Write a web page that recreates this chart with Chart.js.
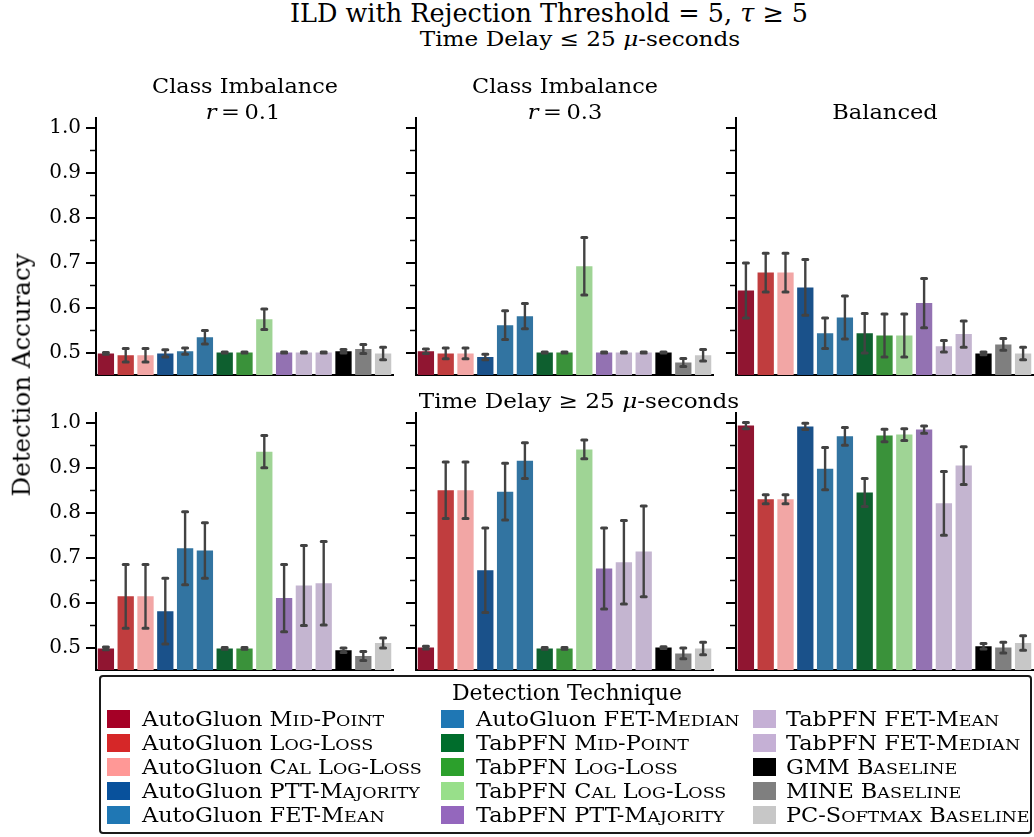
<!DOCTYPE html>
<html>
<head>
<meta charset="utf-8">
<title>ILD detection accuracy</title>
<script src="https://cdn.jsdelivr.net/npm/chart.js@4.4.1/dist/chart.umd.min.js"></script>
<style>
  html, body { margin: 0; padding: 0; background: #fff; }
  #fig { position: relative; width: 1034px; height: 837px; overflow: hidden;
         font-family: 'DejaVu Serif', serif; color: #000; }
  #fig canvas { position: absolute; }
  .t { position: absolute; white-space: nowrap; line-height: 1; }
  .scl { text-transform: uppercase; font-size: 0.78em; }
  .patch { position: absolute; width: 23px; height: 18px; }
  #legendBox { position: absolute; left: 99px; top: 675px; width: 929px; height: 155px;
               border: 2px solid #1a1a1a; border-radius: 4px; }
</style>
</head>
<body>
<div id="fig"><div id="legendBox"></div></div>
<script>
// ---- categories ----
const techniques = [
  'AutoGluon Mid-Point', 'AutoGluon Log-Loss', 'AutoGluon Cal Log-Loss',
  'AutoGluon PTT-Majority', 'AutoGluon FET-Mean', 'AutoGluon FET-Median',
  'TabPFN Mid-Point', 'TabPFN Log-Loss', 'TabPFN Cal Log-Loss',
  'TabPFN PTT-Majority', 'TabPFN FET-Mean', 'TabPFN FET-Median',
  'GMM Baseline', 'MINE Baseline', 'PC-Softmax Baseline'
];

// ---- mean detection accuracy, time delay <= 25 us ----
const accShortImb01 = [0.498, 0.494, 0.494, 0.498, 0.503, 0.534, 0.500, 0.500, 0.574, 0.500, 0.500, 0.500, 0.503, 0.508, 0.498];
const errShortImb01 = [0.002, 0.015, 0.015, 0.008, 0.007, 0.015, 0.001, 0.001, 0.023, 0.001, 0.001, 0.001, 0.004, 0.010, 0.014];
const accShortImb03 = [0.503, 0.498, 0.498, 0.490, 0.561, 0.581, 0.500, 0.500, 0.692, 0.500, 0.500, 0.500, 0.500, 0.478, 0.494];
const errShortImb03 = [0.005, 0.012, 0.012, 0.006, 0.032, 0.028, 0.001, 0.001, 0.064, 0.001, 0.001, 0.001, 0.001, 0.009, 0.013];
const accShortBal   = [0.638, 0.678, 0.678, 0.645, 0.543, 0.578, 0.543, 0.538, 0.538, 0.610, 0.514, 0.541, 0.498, 0.518, 0.498];
const errShortBal   = [0.061, 0.043, 0.043, 0.062, 0.034, 0.048, 0.044, 0.048, 0.048, 0.055, 0.013, 0.029, 0.003, 0.013, 0.014];

// ---- mean detection accuracy, time delay >= 25 us ----
const accLongImb01 = [0.498, 0.614, 0.614, 0.581, 0.721, 0.716, 0.498, 0.498, 0.936, 0.610, 0.638, 0.643, 0.494, 0.481, 0.510];
const errLongImb01 = [0.003, 0.071, 0.071, 0.073, 0.081, 0.062, 0.002, 0.002, 0.036, 0.075, 0.089, 0.093, 0.005, 0.010, 0.011];
const accLongImb03 = [0.500, 0.850, 0.850, 0.672, 0.847, 0.916, 0.498, 0.498, 0.941, 0.676, 0.690, 0.714, 0.500, 0.487, 0.498];
const errLongImb03 = [0.003, 0.063, 0.063, 0.094, 0.063, 0.040, 0.002, 0.002, 0.021, 0.090, 0.093, 0.101, 0.002, 0.012, 0.014];
const accLongBal   = [0.994, 0.830, 0.830, 0.992, 0.898, 0.970, 0.845, 0.972, 0.974, 0.985, 0.821, 0.905, 0.503, 0.500, 0.510];
const errLongBal   = [0.007, 0.010, 0.010, 0.007, 0.047, 0.020, 0.031, 0.014, 0.013, 0.008, 0.071, 0.042, 0.006, 0.012, 0.016];

// ---- y-axis ticks ----
const yMajorTicks = [0.5, 0.6, 0.7, 0.8, 0.9, 1.0];
const yMinorTicks = [0.55, 0.65, 0.75, 0.85, 0.95];
const yMin = 0.45, yMax = 1.022;

// ---- styles ----
const legendColors = ['#a50026', '#d62728', '#ff9896', '#08519c', '#1f77b4', '#1f77b4', '#006d2c', '#2ca02c',
                      '#98df8a', '#9467bd', '#c5b0d5', '#c5b0d5', '#000000', '#7f7f7f', '#c7c7c7'];
const barColors    = ['#901531', '#c03d3e', '#f2a6a5', '#1a518a', '#3274a1', '#3274a1', '#0e5f2f', '#3a923a',
                      '#9fd495', '#9372b2', '#c4b5d0', '#c4b5d0', '#000000', '#7f7f7f', '#c7c7c7'];
const FONT = "'DejaVu Serif', serif";

const fig = document.getElementById('fig');

// error bars drawn from each bar's value and its half-width
const errorBarPlugin = {
  id: 'errorBars',
  afterDatasetsDraw(chart) {
    const { ctx, scales: { y } } = chart;
    chart.data.datasets.forEach((ds, di) => {
      const meta = chart.getDatasetMeta(di);
      meta.data.forEach((bar, i) => {
        const v = ds.data[i], e = ds.errors[i];
        const yHi = y.getPixelForValue(v + e), yLo = y.getPixelForValue(v - e);
        ctx.save();
        ctx.strokeStyle = '#424242';
        ctx.lineWidth = 2.4;
        ctx.beginPath(); ctx.moveTo(bar.x, yHi); ctx.lineTo(bar.x, yLo); ctx.stroke();
        ctx.lineWidth = 3; ctx.lineCap = 'round';
        ctx.beginPath();
        ctx.moveTo(bar.x - 2.5, yHi); ctx.lineTo(bar.x + 2.5, yHi);
        ctx.moveTo(bar.x - 2.5, yLo); ctx.lineTo(bar.x + 2.5, yLo);
        ctx.stroke();
        ctx.restore();
      });
    });
  }
};

// outward major and minor tick marks on the left spine
const yTickPlugin = {
  id: 'yTickMarks',
  afterDraw(chart) {
    const { ctx, chartArea, scales: { y } } = chart;
    ctx.save();
    ctx.strokeStyle = '#000';
    const mark = (v, len, w) => {
      const py = Math.round(y.getPixelForValue(v)) + (w % 2 ? 0.5 : 0);
      ctx.lineWidth = w;
      ctx.beginPath(); ctx.moveTo(chartArea.left - 1 - len, py); ctx.lineTo(chartArea.left, py); ctx.stroke();
    };
    yMajorTicks.forEach(v => mark(v, 9, 2));
    yMinorTicks.forEach(v => mark(v, 5, 1.5));
    ctx.restore();
  }
};

const colX = [96, 416, 736];
const rowTop = [118, 413];
const PLOT_W = 297, PLOT_H = 257, PAD = 40;

const panels = [
  { acc: accShortImb01, err: errShortImb01, row: 0, col: 0 },
  { acc: accShortImb03, err: errShortImb03, row: 0, col: 1 },
  { acc: accShortBal,   err: errShortBal,   row: 0, col: 2 },
  { acc: accLongImb01,  err: errLongImb01,  row: 1, col: 0 },
  { acc: accLongImb03,  err: errLongImb03,  row: 1, col: 1 },
  { acc: accLongBal,    err: errLongBal,    row: 1, col: 2 }
];

panels.forEach(p => {
  const left = p.col === 0 ? 90 : 14;
  const cv = document.createElement('canvas');
  cv.width = left + PLOT_W + 6;
  cv.height = PLOT_H + 2 * PAD;
  cv.style.left = (colX[p.col] - left) + 'px';
  cv.style.top = (rowTop[p.row] - PAD) + 'px';
  fig.insertBefore(cv, fig.firstChild);

  new Chart(cv, {
    type: 'bar',
    data: {
      labels: techniques,
      datasets: [{
        data: p.acc,
        errors: p.err,
        backgroundColor: barColors,
        borderWidth: 0,
        barPercentage: 0.823,
        categoryPercentage: 1.0
      }]
    },
    options: {
      responsive: false,
      animation: false,
      devicePixelRatio: 1,
      events: [],
      layout: { padding: { top: PAD, bottom: PAD, left: 0, right: 6 } },
      plugins: { legend: { display: false }, tooltip: { enabled: false }, title: { display: false } },
      scales: {
        x: {
          type: 'category',
          offset: true,
          grid: { display: false, drawTicks: false },
          ticks: { display: false },
          border: { display: true, color: '#000', width: 2 },
          afterFit: s => { s.height = 0; }
        },
        y: {
          min: yMin,
          max: yMax,
          afterBuildTicks: s => { s.ticks = yMajorTicks.map(v => ({ value: v })); },
          grid: { display: false, drawTicks: false, tickLength: 0 },
          border: { display: true, color: '#000', width: 2 },
          ticks: {
            display: p.col === 0,
            color: '#000',
            padding: 15,
            font: { family: FONT, size: 20 },
            callback: v => Number(v).toFixed(1)
          },
          afterFit: s => { s.width = left; }
        }
      }
    },
    plugins: [errorBarPlugin, yTickPlugin]
  });
});

// ---- text ----
function addText(html, x, baseline, size, align, sx) {
  const d = document.createElement('div');
  d.className = 't';
  d.innerHTML = html;
  d.style.fontSize = size + 'px';
  d.style.top = (baseline - 0.846 * size) + 'px';
  d.style.left = x + 'px';
  const s = sx || 1;
  if (align === 'center') {
    d.style.transform = 'translateX(-50%) scaleX(' + s + ')';
    d.style.transformOrigin = '50% 50%';
  } else {
    d.style.transform = 'scaleX(' + s + ')';
    d.style.transformOrigin = '0 50%';
  }
  fig.appendChild(d);
  return d;
}

addText('ILD with Rejection Threshold = 5, <i>τ</i> ≥ 5', 549, 23, 25.5, 'center');
addText('Time Delay ≤ 25 <i>μ</i>-seconds', 580, 46, 20.5, 'center', 1.13);
addText('Time Delay ≥ 25 <i>μ</i>-seconds', 579, 408, 20.5, 'center', 1.13);
addText('Class Imbalance', 244.5, 93, 20.5, 'center', 1.09);
addText('<i>r</i>&thinsp;=&thinsp;0.1', 243, 119, 20.5, 'center', 1.1);
addText('Class Imbalance', 564.5, 93, 20.5, 'center', 1.09);
addText('<i>r</i>&thinsp;=&thinsp;0.3', 564.5, 119, 20.5, 'center', 1.1);
addText('Balanced', 884.5, 119, 20.5, 'center', 1.1);

const yl = document.createElement('div');
yl.className = 't';
yl.textContent = 'Detection Accuracy';
yl.style.fontSize = '24.5px';
yl.style.left = '22px';
yl.style.top = '375px';
yl.style.transform = 'translate(-50%, -50%) rotate(-90deg)';
fig.appendChild(yl);

// ---- legend ----
addText('Detection Technique', 567, 701, 22, 'center');
const legendPatchX = [107, 441, 753];
const legendTextX = [142, 476, 786];
const legendRowY = [719, 743, 767, 791, 815];

// small capitals: lowercase runs shown as reduced capitals
const smallCaps = s => s.replace(/[a-z]+/g, m => '<span class="scl">' + m + '</span>');

techniques.forEach((name, i) => {
  const col = Math.floor(i / 5), row = i % 5;
  const cy = legendRowY[row];
  const patch = document.createElement('div');
  patch.className = 'patch';
  patch.style.background = legendColors[i];
  patch.style.left = legendPatchX[col] + 'px';
  patch.style.top = (cy - 9) + 'px';
  fig.appendChild(patch);

  const m = name.match(/^(AutoGluon|TabPFN) (.*)$/);
  const html = m ? m[1] + ' ' + smallCaps(m[2]) : smallCaps(name);
  addText(html, legendTextX[col], cy + 0.365 * 20, 20, 'left', 1.12);
});
</script>
</body>
</html>
